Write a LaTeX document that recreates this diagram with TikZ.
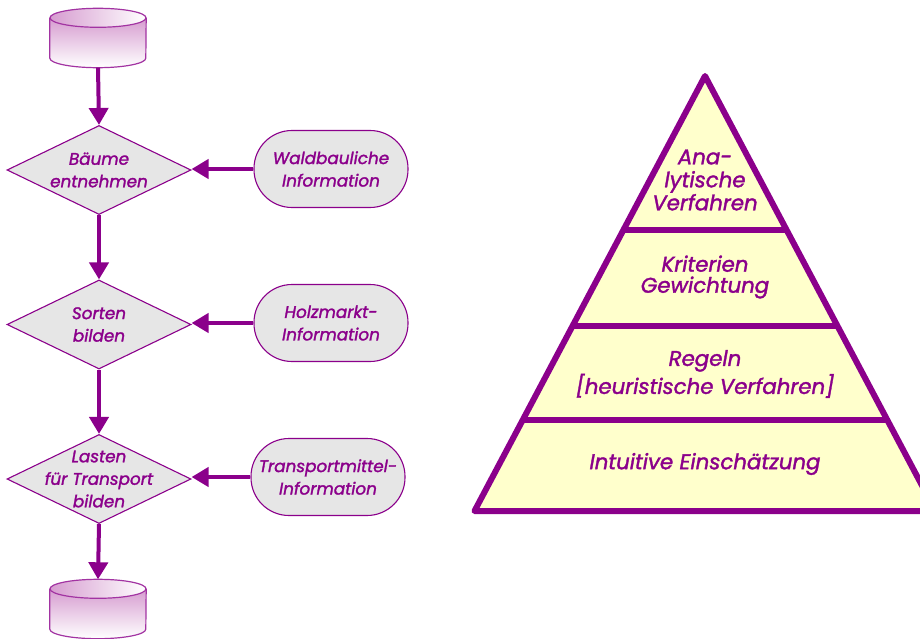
\documentclass[tikz,border=0pt]{standalone}
\usepackage{fontspec}
\setmainfont{Poppins}[ItalicFeatures={FakeBold=1.6}]
\usetikzlibrary{arrows.meta,shapes.geometric,calc}

\definecolor{plum}{HTML}{8B008B}
\definecolor{boxgray}{HTML}{E6E6E6}
\definecolor{cream}{HTML}{FFFFCC}
\definecolor{drumpink}{HTML}{D69CD0}

\tikzset{
  flow/.style={draw=plum, line width=4pt, -{Triangle[width=19pt,length=17pt]}},
  decision/.style={diamond, draw=plum, line width=1.1pt, fill=boxgray,
    minimum width=184pt, minimum height=89pt, inner sep=0pt},
  source/.style={rectangle, rounded corners=38pt, draw=plum, line width=1.1pt,
    fill=boxgray, minimum width=154pt, minimum height=77pt, inner sep=0pt},
  flowtext/.style={text=plum, align=center, inner sep=0pt,
    font=\fontsize{16.8}{22.5}\selectfont\itshape},
  pyrtext/.style={text=plum, align=center, inner sep=0pt,
    font=\fontsize{21.3}{23}\selectfont\itshape},
  drum/.style={minimum width=96pt, minimum height=59pt, inner sep=0pt},
  layer/.style={draw=plum, line width=6pt}
}

% data store drawn as a shaded cylinder inside the named node #1
\newcommand{\drawdrum}[1]{%
  \shade[top color=drumpink, bottom color=white]
    ($(#1.north west)+(0,9.5)$) -- ($(#1.south west)+(0,-9.5)$)
    arc[start angle=180, end angle=360, x radius=48pt, y radius=9.5pt]
    -- ($(#1.north east)+(0,9.5)$)
    arc[start angle=0, end angle=-180, x radius=48pt, y radius=9.5pt] -- cycle;
  \draw[plum!80, line width=1.2pt]
    ($(#1.north west)+(0,9.5)$) -- ($(#1.south west)+(0,-9.5)$)
    arc[start angle=180, end angle=360, x radius=48pt, y radius=9.5pt]
    -- ($(#1.north east)+(0,9.5)$);
  \shade[left color=drumpink, right color=white, draw=plum!80, line width=1.2pt]
    ($(#1.north)+(0,9.5)$) ellipse[x radius=48pt, y radius=9.5pt];
}

\begin{document}
\begin{tikzpicture}[x=1pt, y=-1pt]
\useasboundingbox (0,0) rectangle (920,639);

% ---------- flow chart ----------
\node[drum] (dbin) at (98,38) {};
\drawdrum{dbin}

\node[decision] (d1) at (99,170) {};
\node[flowtext] (t1) at (d1.center) {Bäume\\entnehmen};
\node[decision] (d2) at (99,324.5) {};
\node[flowtext] (t2) at (d2.center) {Sorten\\bilden};
\node[decision] (d3) at (99,479) {};
\node[flowtext] (t3) at (d3.center) {Lasten\\für Transport\\bilden};

\node[drum] (dbout) at (98,609) {};
\drawdrum{dbout}

\node[source] (s1) at (331,169) {};
\node[flowtext] (u1) at (s1.center) {Waldbauliche\\Information};
\node[source] (s2) at (331,323) {};
\node[flowtext] (u2) at (s2.center) {Holzmarkt-\\Information};
\node[source] (s3) at (328,477) {};
\node[flowtext] (u3) at (s3.center) {Transportmittel-\\Information};

\draw[flow] (dbin.south) -- (d1.north);
\draw[flow] (d1.south) -- (d2.north);
\draw[flow] (d2.south) -- (d3.north);
\draw[flow] (d3.south) -- (dbout.north);
\draw[flow] (s1.west) -- (s1.west -| d1.east);
\draw[flow] (s2.west) -- (s2.west -| d2.east);
\draw[flow] (s3.west) -- (s3.west -| d3.east);

% ---------- pyramid ----------
\filldraw[fill=cream, draw=plum, line width=6pt, line join=round, line cap=round]
  (705,76) -- (474.5,511) -- (935.5,511) -- cycle;
\draw[layer] (623.4,230) -- (786.6,230);
\draw[layer] (572.5,326) -- (837.5,326);
\draw[layer] (522.7,420) -- (887.3,420);

\node[pyrtext] (p1) at (705,180) {Ana-\\lytische\\Verfahren};
\node[pyrtext, font=\fontsize{21.3}{21}\selectfont\itshape] (p2) at (705,277)
  {Kriterien\\Gewichtung};
\node[pyrtext, font=\fontsize{21.3}{28}\selectfont\itshape] (p3) at (705,374)
  {Regeln\\{[}heuristische Verfahren{]}};
\node[pyrtext] (p4) at (705,464) {Intuitive Einschätzung};
\end{tikzpicture}
\end{document}
